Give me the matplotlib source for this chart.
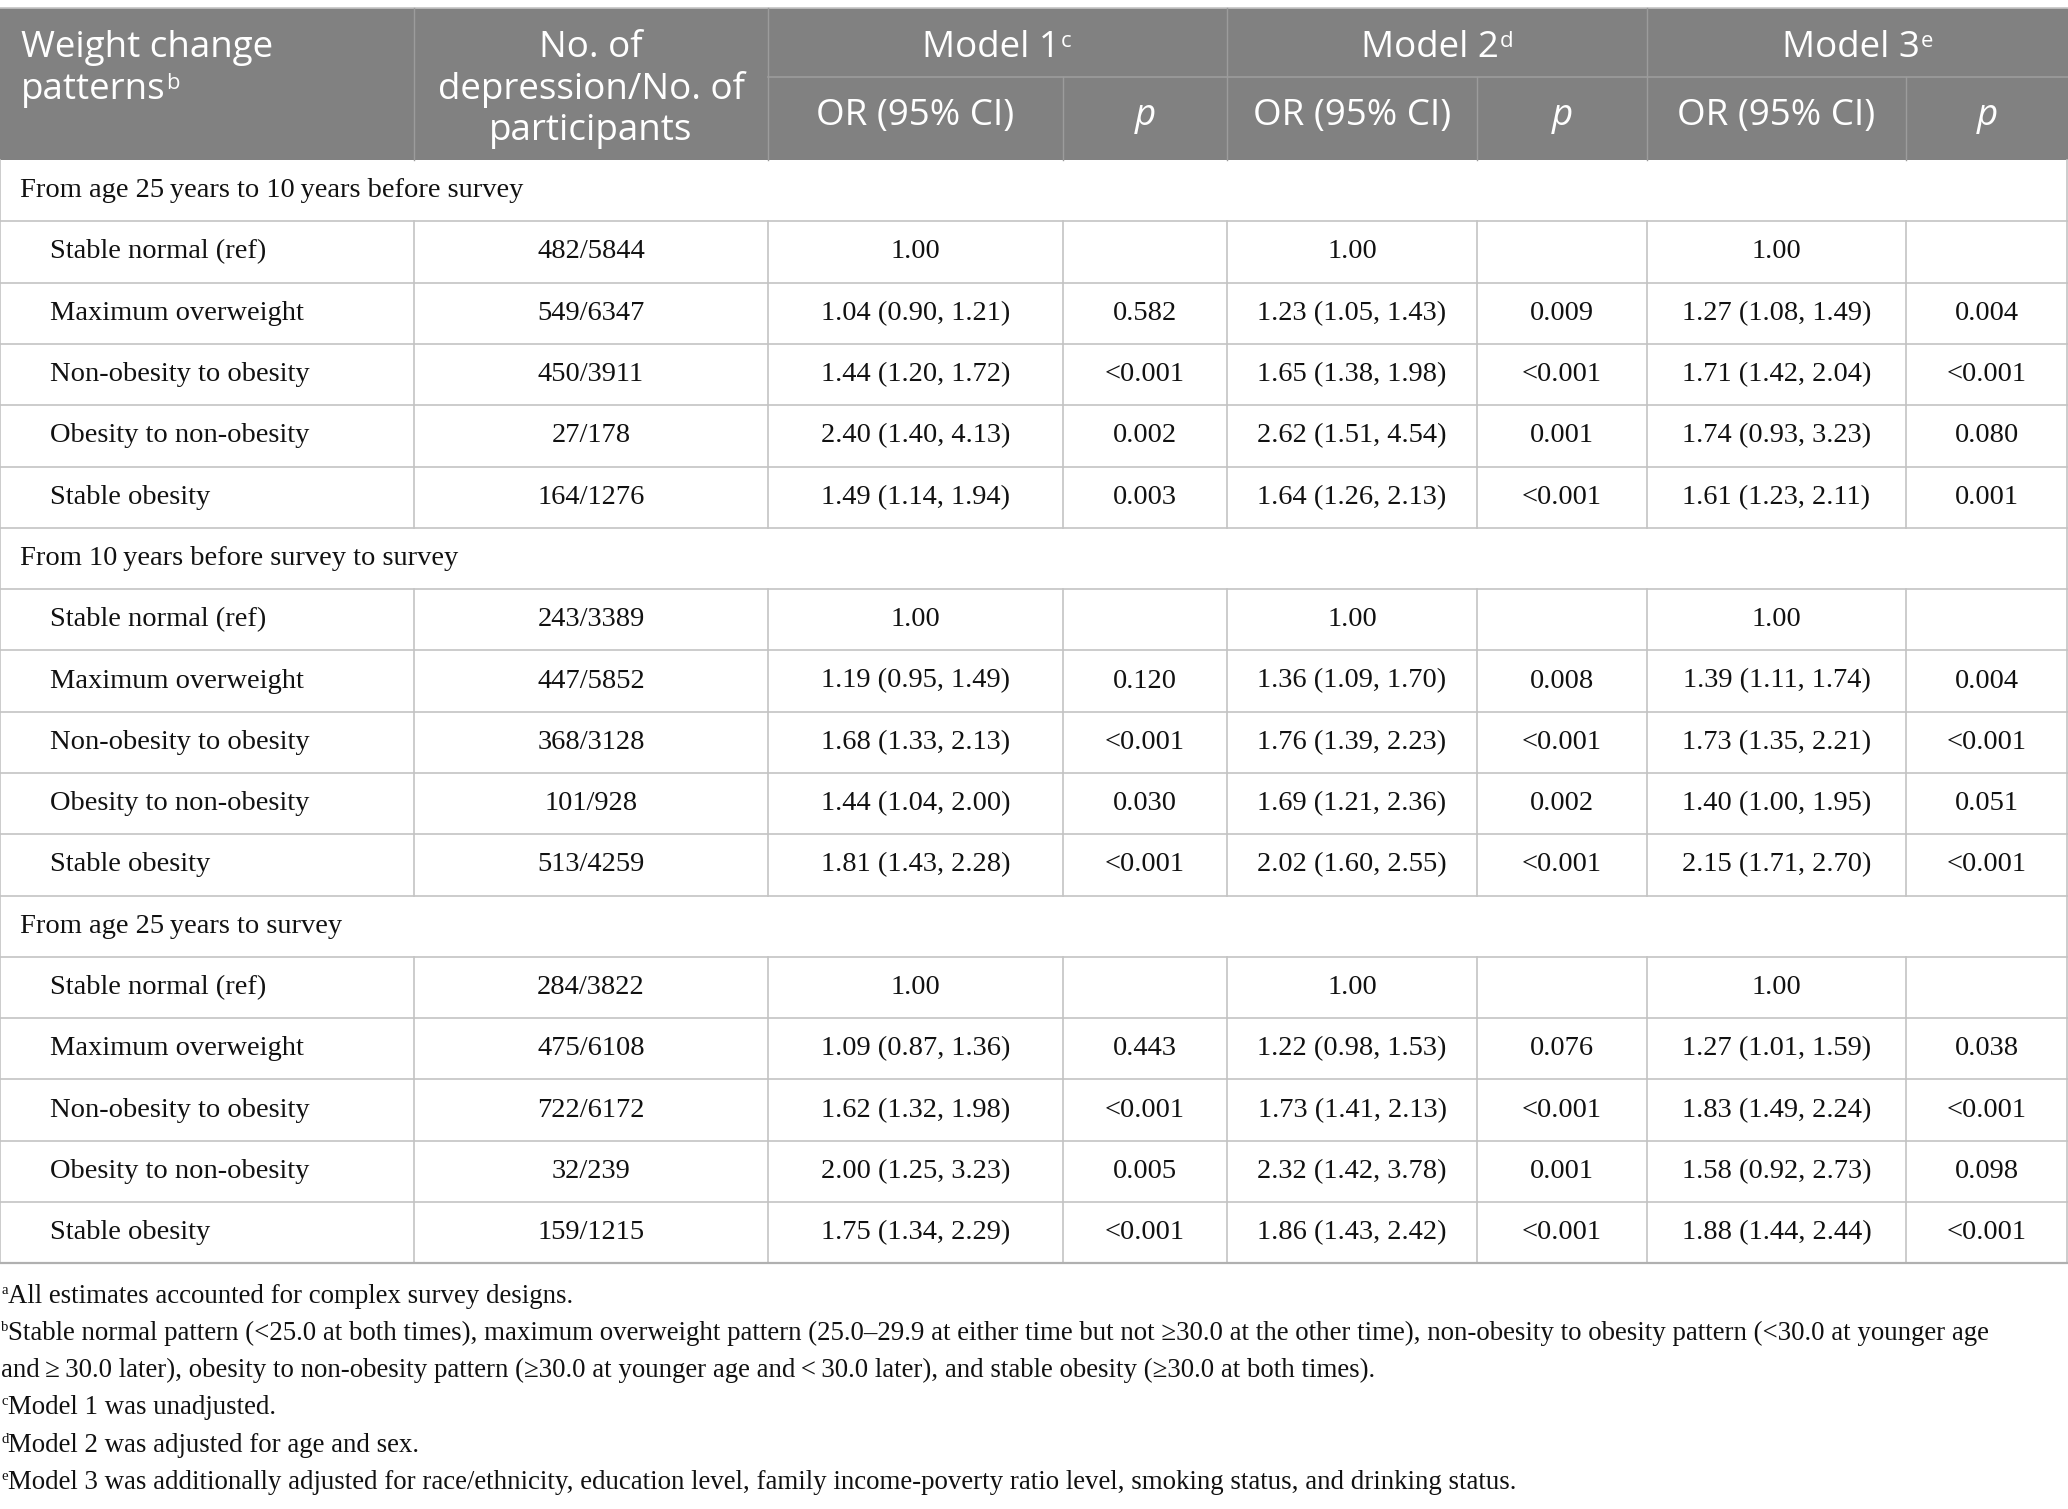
import matplotlib
matplotlib.use("Agg")
import matplotlib.pyplot as plt
from matplotlib.patches import Rectangle

# ---- data ----
sections = [
    "From age 25\u2009years to 10\u2009years before survey",
    "From 10\u2009years before survey to survey",
    "From age 25\u2009years to survey",
]
patterns = ["Stable normal (ref)", "Maximum overweight", "Non-obesity to obesity",
            "Obesity to non-obesity", "Stable obesity"]

counts = [
    ["482/5844", "549/6347", "450/3911", "27/178", "164/1276"],
    ["243/3389", "447/5852", "368/3128", "101/928", "513/4259"],
    ["284/3822", "475/6108", "722/6172", "32/239", "159/1215"],
]
m1_or = [
    ["1.00", "1.04 (0.90, 1.21)", "1.44 (1.20, 1.72)", "2.40 (1.40, 4.13)", "1.49 (1.14, 1.94)"],
    ["1.00", "1.19 (0.95, 1.49)", "1.68 (1.33, 2.13)", "1.44 (1.04, 2.00)", "1.81 (1.43, 2.28)"],
    ["1.00", "1.09 (0.87, 1.36)", "1.62 (1.32, 1.98)", "2.00 (1.25, 3.23)", "1.75 (1.34, 2.29)"],
]
m1_p = [
    ["", "0.582", "<0.001", "0.002", "0.003"],
    ["", "0.120", "<0.001", "0.030", "<0.001"],
    ["", "0.443", "<0.001", "0.005", "<0.001"],
]
m2_or = [
    ["1.00", "1.23 (1.05, 1.43)", "1.65 (1.38, 1.98)", "2.62 (1.51, 4.54)", "1.64 (1.26, 2.13)"],
    ["1.00", "1.36 (1.09, 1.70)", "1.76 (1.39, 2.23)", "1.69 (1.21, 2.36)", "2.02 (1.60, 2.55)"],
    ["1.00", "1.22 (0.98, 1.53)", "1.73 (1.41, 2.13)", "2.32 (1.42, 3.78)", "1.86 (1.43, 2.42)"],
]
m2_p = [
    ["", "0.009", "<0.001", "0.001", "<0.001"],
    ["", "0.008", "<0.001", "0.002", "<0.001"],
    ["", "0.076", "<0.001", "0.001", "<0.001"],
]
m3_or = [
    ["1.00", "1.27 (1.08, 1.49)", "1.71 (1.42, 2.04)", "1.74 (0.93, 3.23)", "1.61 (1.23, 2.11)"],
    ["1.00", "1.39 (1.11, 1.74)", "1.73 (1.35, 2.21)", "1.40 (1.00, 1.95)", "2.15 (1.71, 2.70)"],
    ["1.00", "1.27 (1.01, 1.59)", "1.83 (1.49, 2.24)", "1.58 (0.92, 2.73)", "1.88 (1.44, 2.44)"],
]
m3_p = [
    ["", "0.004", "<0.001", "0.080", "0.001"],
    ["", "0.004", "<0.001", "0.051", "<0.001"],
    ["", "0.038", "<0.001", "0.098", "<0.001"],
]

model_names = ["Model 1", "Model 2", "Model 3"]
model_marks = ["c", "d", "e"]

footnotes = [
    ("a", "All estimates accounted for complex survey designs."),
    ("b", "Stable normal pattern (<25.0 at both times), maximum overweight pattern (25.0\u201329.9 at either time but not \u226530.0 at the other time), non-obesity to obesity pattern (<30.0 at younger age"),
    ("", "and\u2009\u2265\u200930.0 later), obesity to non-obesity pattern (\u226530.0 at younger age and\u2009<\u200930.0 later), and stable obesity (\u226530.0 at both times)."),
    ("c", "Model 1 was unadjusted."),
    ("d", "Model 2 was adjusted for age and sex."),
    ("e", "Model 3 was additionally adjusted for race/ethnicity, education level, family income-poverty ratio level, smoking status, and drinking status."),
]

# ---- layout (pixels) ----
W, H = 2068, 1509
cols = [0, 414, 768, 1063, 1227, 1477, 1647, 1906, 2068]
top, mid, head_bot = 8, 77, 160
row_h = 61.3
header_bg = "#818181"
grid_c = "#c4c4c4"
head_line = "#9c9c9c"
serif = ["Liberation Serif", "DejaVu Serif"]
sans = ["Open Sans", "DejaVu Sans"]
body_fs = 20.5
head_fs = 26.5
foot_fs = 19.4

fig = plt.figure(figsize=(W / 100, H / 100), dpi=100)
ax = fig.add_axes([0, 0, 1, 1])
ax.set_xlim(0, W)
ax.set_ylim(H, 0)
ax.axis("off")

# header background
ax.add_patch(Rectangle((0, top), W, head_bot - top, color=header_bg, lw=0))
ax.plot([cols[0], cols[-1]], [top, top], color=grid_c, lw=1.2)
for x in [cols[1], cols[2], cols[4], cols[6]]:
    ax.plot([x, x], [top, head_bot], color=head_line, lw=1.0)
for x in [cols[3], cols[5], cols[7]]:
    ax.plot([x, x], [mid, head_bot], color=head_line, lw=1.0)
ax.plot([cols[2], cols[-1]], [mid, mid], color=head_line, lw=1.2)

texts = []
hdr_kw = dict(color="white", fontsize=head_fs, family=sans, va="center")
ax.text(21, 48, "Weight change", ha="left", **hdr_kw)
texts.append((ax.text(21, 90, "patterns", ha="left", **hdr_kw), "b", sans, head_fs, "white"))
cx = (cols[1] + cols[2]) / 2
for i, line in enumerate(["No. of", "depression/No. of", "participants"]):
    ax.text(cx, 48 + i * 41.5, line, ha="center", **hdr_kw)
for m in range(3):
    x0, x1 = cols[2 + 2 * m], cols[4 + 2 * m]
    texts.append((ax.text((x0 + x1) / 2 - 7, 48, model_names[m], ha="center", **hdr_kw),
                  model_marks[m], sans, head_fs, "white"))
    ax.text((cols[2 + 2 * m] + cols[3 + 2 * m]) / 2, 116, "OR (95% CI)", ha="center", **hdr_kw)
    ax.text((cols[3 + 2 * m] + cols[4 + 2 * m]) / 2, 116, "p", ha="center",
            style="italic", **hdr_kw)

# body
body_kw = dict(color="#111111", fontsize=body_fs, family=serif, va="center")
y = head_bot
for s in range(len(sections)):
    ax.text(20, y + row_h / 2, sections[s], ha="left", **body_kw)
    ax.plot([0, 0], [y, y + row_h], color=grid_c, lw=1.2)
    ax.plot([W - 1, W - 1], [y, y + row_h], color=grid_c, lw=1.2)
    y += row_h
    ax.plot([0, W], [y, y], color=grid_c, lw=1.2)
    for r in range(len(patterns)):
        yc = y + row_h / 2
        vals = [counts[s][r], m1_or[s][r], m1_p[s][r], m2_or[s][r], m2_p[s][r],
                m3_or[s][r], m3_p[s][r]]
        ax.text(50, yc, patterns[r], ha="left", **body_kw)
        for c, v in enumerate(vals):
            ax.text((cols[c + 1] + cols[c + 2]) / 2, yc, v, ha="center", **body_kw)
        for x in cols[:-1] + [W - 1]:
            ax.plot([x, x], [y, y + row_h], color=grid_c, lw=1.2)
        y += row_h
        ax.plot([0, W], [y, y], color=grid_c, lw=1.2)
ax.plot([0, W], [y, y], color="#b0b0b0", lw=1.6)

# footnotes
fy = y + 33
for mark, txt in footnotes:
    if mark:
        ax.text(1, fy - 6, mark, ha="left", va="center", fontsize=foot_fs * 0.55,
                family=serif, color="#111111")
        ax.text(8, fy, txt, ha="left", va="center", fontsize=foot_fs, family=serif,
                color="#111111")
    else:
        ax.text(1, fy, txt, ha="left", va="center", fontsize=foot_fs, family=serif,
                color="#111111")
    fy += 37.2

# superscripts placed right after their base text
fig.canvas.draw()
renderer = fig.canvas.get_renderer()
inv = ax.transData.inverted()
for t, mark, fam, fs, col in texts:
    bb = t.get_window_extent(renderer)
    x1, y1 = inv.transform((bb.x1, bb.y1))
    ax.text(x1 + 1, y1 + 1, mark, ha="left", va="top", fontsize=fs * 0.6,
            family=fam, color=col)

fig.savefig("out.png", dpi=100)
